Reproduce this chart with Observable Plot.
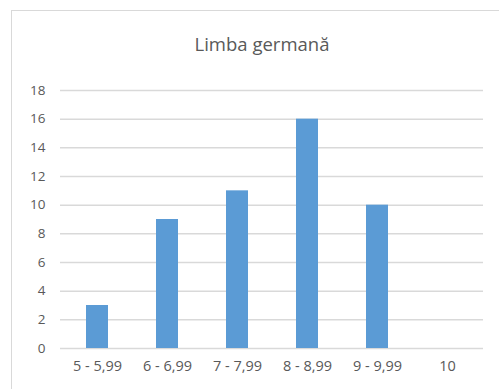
<!DOCTYPE html>
<html>
<head>
<meta charset="utf-8">
<script src="https://cdn.jsdelivr.net/npm/d3@7"></script>
<script src="https://cdn.jsdelivr.net/npm/@observablehq/plot@0.6"></script>
<style>
  html, body { margin: 0; padding: 0; background: #fff; }
  #wrap { position: relative; width: 499px; height: 389px; overflow: hidden; font-family: "Open Sans", sans-serif; }
  #frame { position: absolute; left: 11px; top: 10px; width: 600px; height: 600px; border: 1.5px solid #d9d9d9; box-sizing: border-box; }
  #title { position: absolute; left: 0; width: 524px; top: 31px; text-align: center; font-size: 18.5px; color: #595959; }
  #chart { position: absolute; left: 0; top: 0; }
</style>
</head>
<body>
<div id="wrap">
  <div id="frame"></div>
  <div id="title">Limba germană</div>
  <div id="chart"></div>
</div>
<script>
const categories = ["5 - 5,99", "6 - 6,99", "7 - 7,99", "8 - 8,99", "9 - 9,99", "10"];
const counts = [3, 9, 11, 16, 10, 0];
const yTicks = [0, 2, 4, 6, 8, 10, 12, 14, 16, 18];

const data = categories.map((c, i) => ({category: c, count: counts[i]}));

const chart = Plot.plot({
  width: 499,
  height: 389,
  marginLeft: 60,
  marginRight: 16,
  marginTop: 90,
  marginBottom: 41,
  style: {fontFamily: "Open Sans, sans-serif", fontSize: "14px", color: "#595959", background: "transparent"},
  x: {domain: categories, paddingInner: 0.69, paddingOuter: 0.345, label: null},
  y: {domain: [0, 18], label: null},
  marks: [
    Plot.gridY(yTicks, {stroke: "#d9d9d9", strokeOpacity: 1, strokeWidth: 1.5}),
    Plot.barY(data, {x: "category", y: "count", fill: "#5b9bd5"}),
    Plot.axisX({tickSize: 0, tickPadding: 12, fill: "#595959", fontSize: 14.5}),
    Plot.axisY(yTicks, {tickSize: 0, tickPadding: 15, fill: "#595959", fontSize: 13.5, label: null})
  ]
});
document.getElementById("chart").appendChild(chart);
</script>
</body>
</html>
